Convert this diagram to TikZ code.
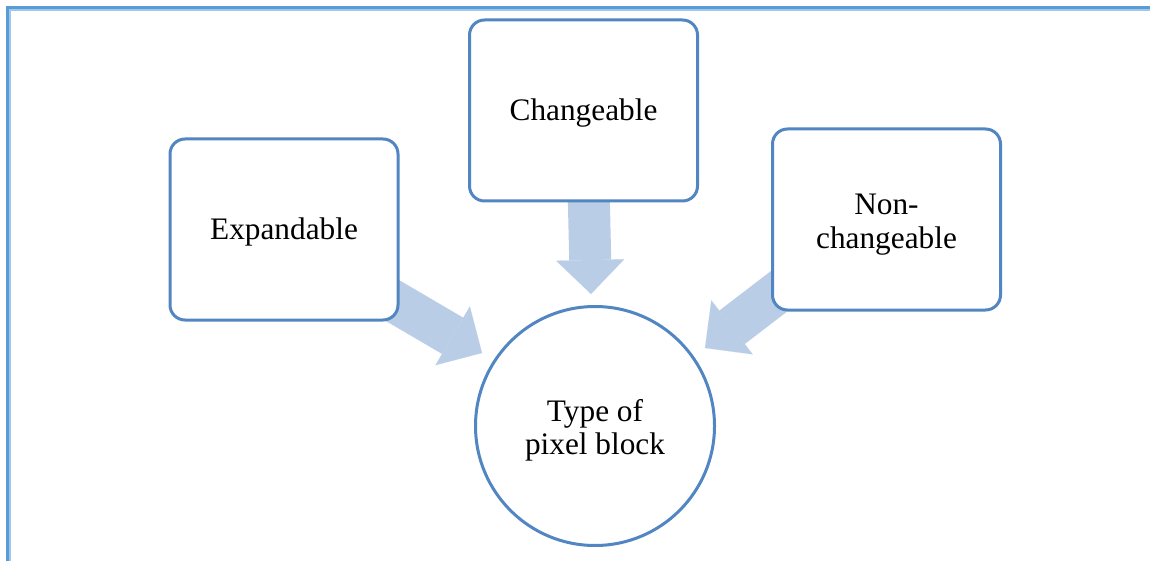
\documentclass[tikz,border=0pt]{standalone}
\usepackage{fontspec}
\setmainfont{Liberation Serif}
\usetikzlibrary{arrows.meta}
\definecolor{framec}{RGB}{91,155,213}
\definecolor{frameinner}{RGB}{160,200,235}
\definecolor{boxc}{RGB}{82,134,194}
\definecolor{arrowc}{RGB}{185,205,230}
\begin{document}
\begin{tikzpicture}[x=1pt,y=-1pt,
  lbl/.style={font=\fontsize{31.3}{33}\selectfont, align=center, text=black,
    execute at begin node={\rule{0pt}{29pt}},
    execute at end node={\rule[-8pt]{0pt}{8pt}}},
  twoline/.style={execute at begin node={\rule{0pt}{65pt}}},
  card/.style={lbl, draw=boxc, line width=3pt, fill=white, rounded corners=15pt,
    minimum width=228pt, minimum height=181pt, inner sep=0pt},
  hub/.style={lbl, draw=boxc, line width=3pt, fill=white, circle,
    minimum size=239pt, inner sep=0pt},
  fat/.style={draw=arrowc, line width=42pt,
    -{Triangle[length=34pt,width=68pt,line width=0.1pt]}}]
\useasboundingbox (0,0) rectangle (1150,561);
\fill[white] (0,0) rectangle (1150,561);
% frame
\draw[frameinner, line width=1.5pt] (9.8,561) -- (9.8,9.8) -- (1150,9.8);
\draw[framec, line width=3pt] (7.5,561) -- (7.5,7.5) -- (1150,7.5);
% arrow tips
\coordinate (tipE) at (482,353);
\coordinate (tipC) at (591,294);
\coordinate (tipN) at (705,348);
\coordinate (srcE) at (284,237);
\coordinate (srcC) at (587,120);
\coordinate (srcN) at (880,214);
% arrows (behind boxes)
\draw[fat] (srcE) -- (tipE);
\draw[fat] (srcC) -- (tipC);
\draw[fat] (srcN) -- (tipN);
% nodes
\node[card] (exp) at (284,229.5) {Expandable};
\node[card] (chg) at (583.5,110.5) {Changeable};
\node[card, twoline] (nch) at (886.5,219.5) {Non-\\changeable};
\node[hub, twoline] (hub) at (595,426) {Type of\\pixel block};
\end{tikzpicture}
\end{document}
